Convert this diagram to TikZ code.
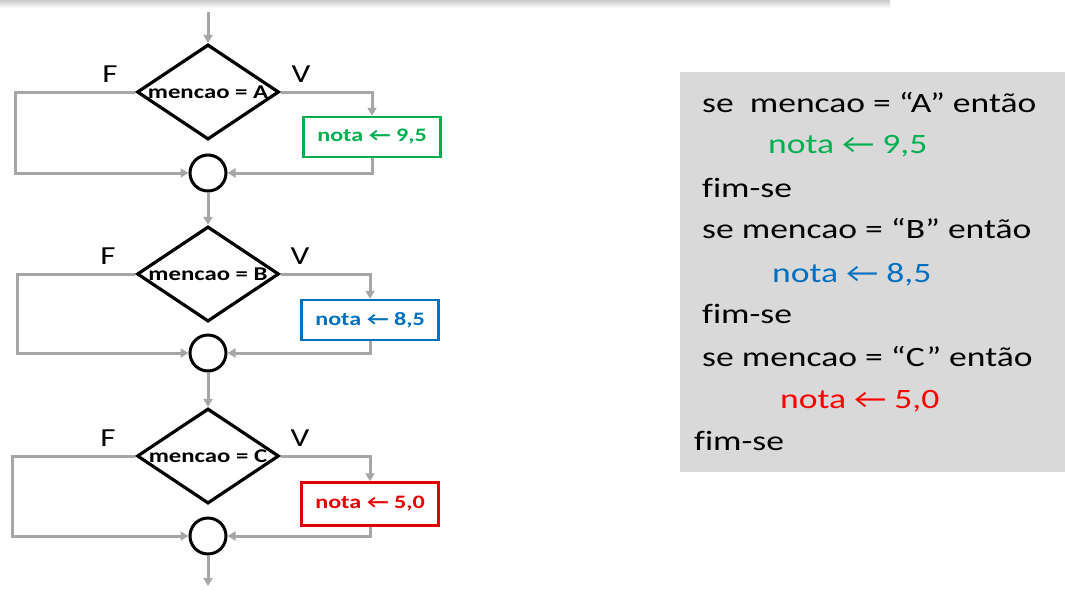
\documentclass[tikz,border=0pt]{standalone}
\usepackage{fontspec}
\setmainfont{Carlito}[FakeStretch=1.27, Ligatures=CommonOff]
\usetikzlibrary{shapes.geometric,arrows.meta}
\definecolor{verde}{HTML}{00B050}
\definecolor{azul}{HTML}{0070C0}
\definecolor{vermelho}{HTML}{FF0000}
\definecolor{cinza}{HTML}{A6A6A6}
\definecolor{fundo}{HTML}{D9D9D9}
\newcommand{\seta}{←}

\begin{document}
\begin{tikzpicture}[x=1pt, y=-1pt, >={Triangle[length=8pt,width=9pt]},
  decisao/.style={diamond, draw, line width=3.2pt, minimum width=142pt, minimum height=95pt, inner sep=0pt, font=\fontsize{19.5}{19.5}\selectfont\bfseries},
  juncao/.style={circle, draw, line width=3pt, minimum size=36pt, inner sep=0pt},
  atrib/.style={draw, line width=2.5pt, minimum width=137pt, minimum height=40pt, inner sep=0pt, font=\fontsize{19}{19}\selectfont\bfseries},
  fluxo/.style={cinza, line width=3pt, ->},
  rotulo/.style={font=\fontsize{26}{26}\selectfont},
  codigo/.style={anchor=base west, inner sep=0pt, font=\fontsize{28}{28}\selectfont}]
  \useasboundingbox (0,0) rectangle (1065,592);
  \shade[top color=gray!40, bottom color=white] (0,0) rectangle (890,8);

  \coordinate (ent) at (208,12);
  \coordinate (sai) at (208,586);
  \coordinate (fA) at (15,92);
  \coordinate (fB) at (17,274);
  \coordinate (fC) at (12,456);

  \node[decisao] (dA) at (208,92) {\makebox[0pt]{mencao = A}};
  \node[decisao] (dB) at (208,274) {\makebox[0pt]{mencao = B}};
  \node[decisao] (dC) at (208,456) {\makebox[0pt]{mencao = C}};

  \node[atrib, draw=verde, text=verde] (bA) at (372,137) {nota \seta{} 9,5};
  \node[atrib, draw=azul, text=azul] (bB) at (370,320) {nota \seta{} 8,5};
  \node[atrib, draw=vermelho!90!black, text=vermelho!90!black, minimum height=43pt] (bC) at (370,504) {nota \seta{} 5,0};

  \node[juncao] (cA) at (208,173) {};
  \node[juncao] (cB) at (208,353) {};
  \node[juncao] (cC) at (208,536) {};

  \node[rotulo] (FA) at (110,74) {F};
  \node[rotulo] (VA) at (301,74) {V};
  \node[rotulo] (FB) at (108,256) {F};
  \node[rotulo] (VB) at (300,256) {V};
  \node[rotulo] (FC) at (108,438) {F};
  \node[rotulo] (VC) at (300,438) {V};

  \draw[fluxo] (ent) -- (dA);
  \draw[fluxo] (dA.west) -- (fA) |- (cA);
  \draw[fluxo] (dA.east) -| (bA);
  \draw[fluxo] (bA) |- (cA);
  \draw[fluxo] (cA) -- (dB);
  \draw[fluxo] (dB.west) -- (fB) |- (cB);
  \draw[fluxo] (dB.east) -| (bB);
  \draw[fluxo] (bB) |- (cB);
  \draw[fluxo] (cB) -- (dC);
  \draw[fluxo] (dC.west) -- (fC) |- (cC);
  \draw[fluxo] (dC.east) -| (bC);
  \draw[fluxo] (bC) |- (cC);
  \draw[fluxo] (cC) -- (sai);

  \fill[fundo] (680,72) rectangle (1065,472);
  \node[codigo] (l1) at (702,112) {se\ \ mencao = “A” então};
  \node[codigo, text=verde] (l2) at (768,153) {nota \seta{} 9,5};
  \node[codigo] (l3) at (702,197) {fim-se};
  \node[codigo] (l4) at (702,238) {se mencao = “B” então};
  \node[codigo, text=azul] (l5) at (772,282) {nota \seta{} 8,5};
  \node[codigo] (l6) at (702,323) {fim-se};
  \node[codigo] (l7) at (702,366) {se mencao = “C” então};
  \node[codigo, text=vermelho] (l8) at (780,408) {nota \seta{} 5,0};
  \node[codigo] (l9) at (694,450) {fim-se};
\end{tikzpicture}
\end{document}
